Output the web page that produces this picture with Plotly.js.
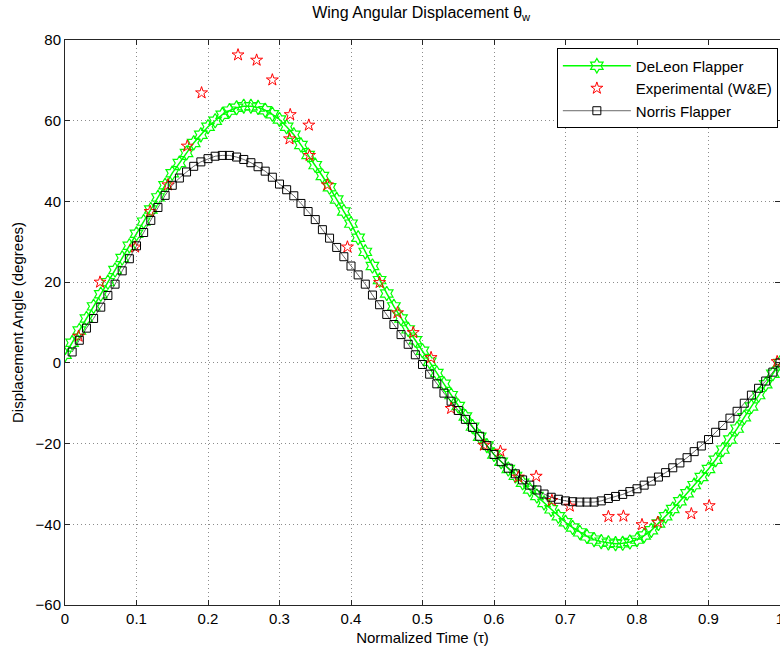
<!DOCTYPE html>
<html>
<head>
<meta charset="utf-8">
<script src="https://cdn.plot.ly/plotly-3.0.1.min.js"></script>
<style>html,body{margin:0;padding:0;background:#fff;}#chart{width:780px;height:653px;}</style>
</head>
<body>
<div id="chart"></div>
<script>
// DeLeon Flapper (green hexagram line)
const deleonX = [0.00,0.01,0.02,0.03,0.04,0.05,0.06,0.07,0.08,0.09,0.10,0.11,0.12,0.13,0.14,0.15,0.16,0.17,0.18,0.19,0.20,0.21,0.22,0.23,0.24,0.25,0.26,0.27,0.28,0.29,0.30,0.31,0.32,0.33,0.34,0.35,0.36,0.37,0.38,0.39,0.40,0.41,0.42,0.43,0.44,0.45,0.46,0.47,0.48,0.49,0.50,0.51,0.52,0.53,0.54,0.55,0.56,0.57,0.58,0.59,0.60,0.61,0.62,0.63,0.64,0.65,0.66,0.67,0.68,0.69,0.70,0.71,0.72,0.73,0.74,0.75,0.76,0.77,0.78,0.79,0.80,0.81,0.82,0.83,0.84,0.85,0.86,0.87,0.88,0.89,0.90,0.91,0.92,0.93,0.94,0.95,0.96,0.97,0.98,0.99,1.00];
const deleonY = [2,5,8,11,14,17,20,23,26,29,32,35,38,41,44,47,49.5,52,54.5,56.5,58.5,60,61.5,62.5,63.2,63.6,63.6,63.3,62.6,61.6,60.3,58.5,56.5,54,51.5,49,46.3,43.5,40.5,37.5,34.5,31,27.5,24,20.5,17.2,14,11,8.3,5.6,3,0.3,-2.5,-5.2,-8,-10.7,-13.3,-15.8,-18.3,-20.5,-22.7,-24.5,-26.3,-28,-29.7,-31.4,-33,-34.7,-36.3,-38,-39.5,-40.8,-42,-43,-43.8,-44.3,-44.6,-44.8,-44.7,-44.4,-43.8,-42.8,-41.5,-39.8,-38,-36.2,-34.3,-32.3,-30.3,-28.3,-26.3,-24,-21.5,-19,-16.3,-13.5,-10.8,-8,-5.3,-2.7,0];

// Experimental (W&E) red stars
const expX = [0.019,0.049,0.098,0.119,0.144,0.171,0.191,0.242,0.268,0.290,0.315,0.314,0.341,0.342,0.367,0.395,0.440,0.465,0.487,0.512,0.540,0.586,0.609,0.634,0.659,0.681,0.706,0.760,0.781,0.807,0.829,0.876,0.901,0.996];
const expY = [6.6,20.0,28.7,37.5,44.1,53.7,66.9,76.3,75.0,70.1,61.5,55.5,58.9,51.4,44.1,28.7,19.9,12.4,7.5,1.3,-11.3,-20.4,-21.9,-28.3,-28.1,-34.1,-35.5,-38.1,-38.0,-40.1,-39.5,-37.4,-35.4,0.3];

// Norris Flapper (black square line)
const norrisX = [0.01,0.02,0.03,0.04,0.05,0.06,0.07,0.08,0.09,0.10,0.11,0.12,0.13,0.14,0.15,0.16,0.17,0.18,0.19,0.20,0.21,0.22,0.23,0.24,0.25,0.26,0.27,0.28,0.29,0.30,0.31,0.32,0.33,0.34,0.35,0.36,0.37,0.38,0.39,0.40,0.41,0.42,0.43,0.44,0.45,0.46,0.47,0.48,0.49,0.50,0.51,0.52,0.53,0.54,0.55,0.56,0.57,0.58,0.59,0.60,0.61,0.62,0.63,0.64,0.65,0.66,0.67,0.68,0.69,0.70,0.71,0.72,0.73,0.74,0.75,0.76,0.77,0.78,0.79,0.80,0.81,0.82,0.83,0.84,0.85,0.86,0.87,0.88,0.89,0.90,0.91,0.92,0.93,0.94,0.95,0.96,0.97,0.98,0.99,1.00];
const norrisY = [2.7,5.6,8.6,11,13.8,16.7,19.5,22.8,25.8,29,32.3,35.3,38.5,41.5,44,45.8,47.3,48.7,49.8,50.6,51.2,51.4,51.4,51,50.4,49.6,48.6,47.5,46,44.3,42.9,41.4,39.5,37.5,35.5,33,30.9,28.6,26.3,24,21.8,19.5,16.8,14.4,12,9.5,7,4.6,2,-0.4,-2.8,-5.2,-7.5,-9.5,-11.8,-14,-16,-18.2,-20.5,-22.7,-24.5,-26.1,-27.5,-29,-30.3,-31.5,-32.5,-33.3,-33.8,-34.2,-34.4,-34.5,-34.5,-34.5,-34.2,-33.6,-33.1,-32.6,-31.9,-31.2,-30.3,-29.3,-28.3,-27.2,-26,-24.8,-23.5,-22,-20.6,-19,-17.2,-15.5,-13.7,-12,-10,-8,-6.3,-4.5,-2.3,0];

const xTicks = [0,0.1,0.2,0.3,0.4,0.5,0.6,0.7,0.8,0.9,1];
const xTickText = ["0","0.1","0.2","0.3","0.4","0.5","0.6","0.7","0.8","0.9","1"];
const yTicks = [-60,-40,-20,0,20,40,60,80];

const FONT = "Liberation Sans, Arial, Helvetica, sans-serif";

const traces = [
  {x: deleonX, y: deleonY, name: "DeLeon Flapper", type: "scatter", mode: "lines+markers",
   line: {color: "#00ff00", width: 1.5},
   marker: {symbol: "hexagram-open", size: 11, color: "#00ff00", line: {width: 1.2, color: "#00ff00"}}},
  {x: expX, y: expY, name: "Experimental (W&E)", type: "scatter", mode: "markers",
   marker: {symbol: "star-open", size: 9, color: "#ff0000", line: {width: 1, color: "#ff0000"}}},
  {x: norrisX, y: norrisY, name: "Norris Flapper", type: "scatter", mode: "lines+markers",
   line: {color: "#000000", width: 0.6},
   marker: {symbol: "square-open", size: 8, color: "#000000", line: {width: 1, color: "#000000"}}}
];

const axisCommon = {
  showgrid: true, gridcolor: "#8c8c8c", griddash: "1px,3px", gridwidth: 1,
  zeroline: false, showline: true, linecolor: "#262626", linewidth: 1, mirror: "ticks",
  ticks: "inside", ticklen: 5, tickcolor: "#262626", tickwidth: 1,
  ticklabeloverflow: "allow",
  tickfont: {family: FONT, size: 15, color: "#000"}
};

const layout = {
  width: 780, height: 653,
  margin: {l: 65, r: 0, t: 40, b: 48},
  paper_bgcolor: "#fff", plot_bgcolor: "#fff",
  font: {family: FONT, color: "#000"},
  title: {text: "Wing Angular Displacement θ<sub>w</sub>", font: {family: FONT, size: 16, color: "#000"},
          x: 0.54, xanchor: "center", y: 0.99, yanchor: "top"},
  xaxis: Object.assign({}, axisCommon, {
    range: [0, 1], tickvals: xTicks, ticktext: xTickText,
    title: {text: "Normalized Time (τ)", font: {family: FONT, size: 15, color: "#000"}, standoff: 6}
  }),
  yaxis: Object.assign({}, axisCommon, {
    range: [-60, 80], tickvals: yTicks,
    title: {text: "Displacement Angle (degrees)", font: {family: FONT, size: 15, color: "#000"}, standoff: 8}
  }),
  showlegend: true,
  legend: {x: 0.997, xanchor: "right", y: 0.985, yanchor: "top",
           bgcolor: "#fff", bordercolor: "#000", borderwidth: 1,
           font: {family: FONT, size: 15, color: "#000"}, tracegroupgap: 0, itemwidth: 68}
};

Plotly.newPlot("chart", traces, layout, {displayModeBar: false, staticPlot: true});
</script>
</body>
</html>
